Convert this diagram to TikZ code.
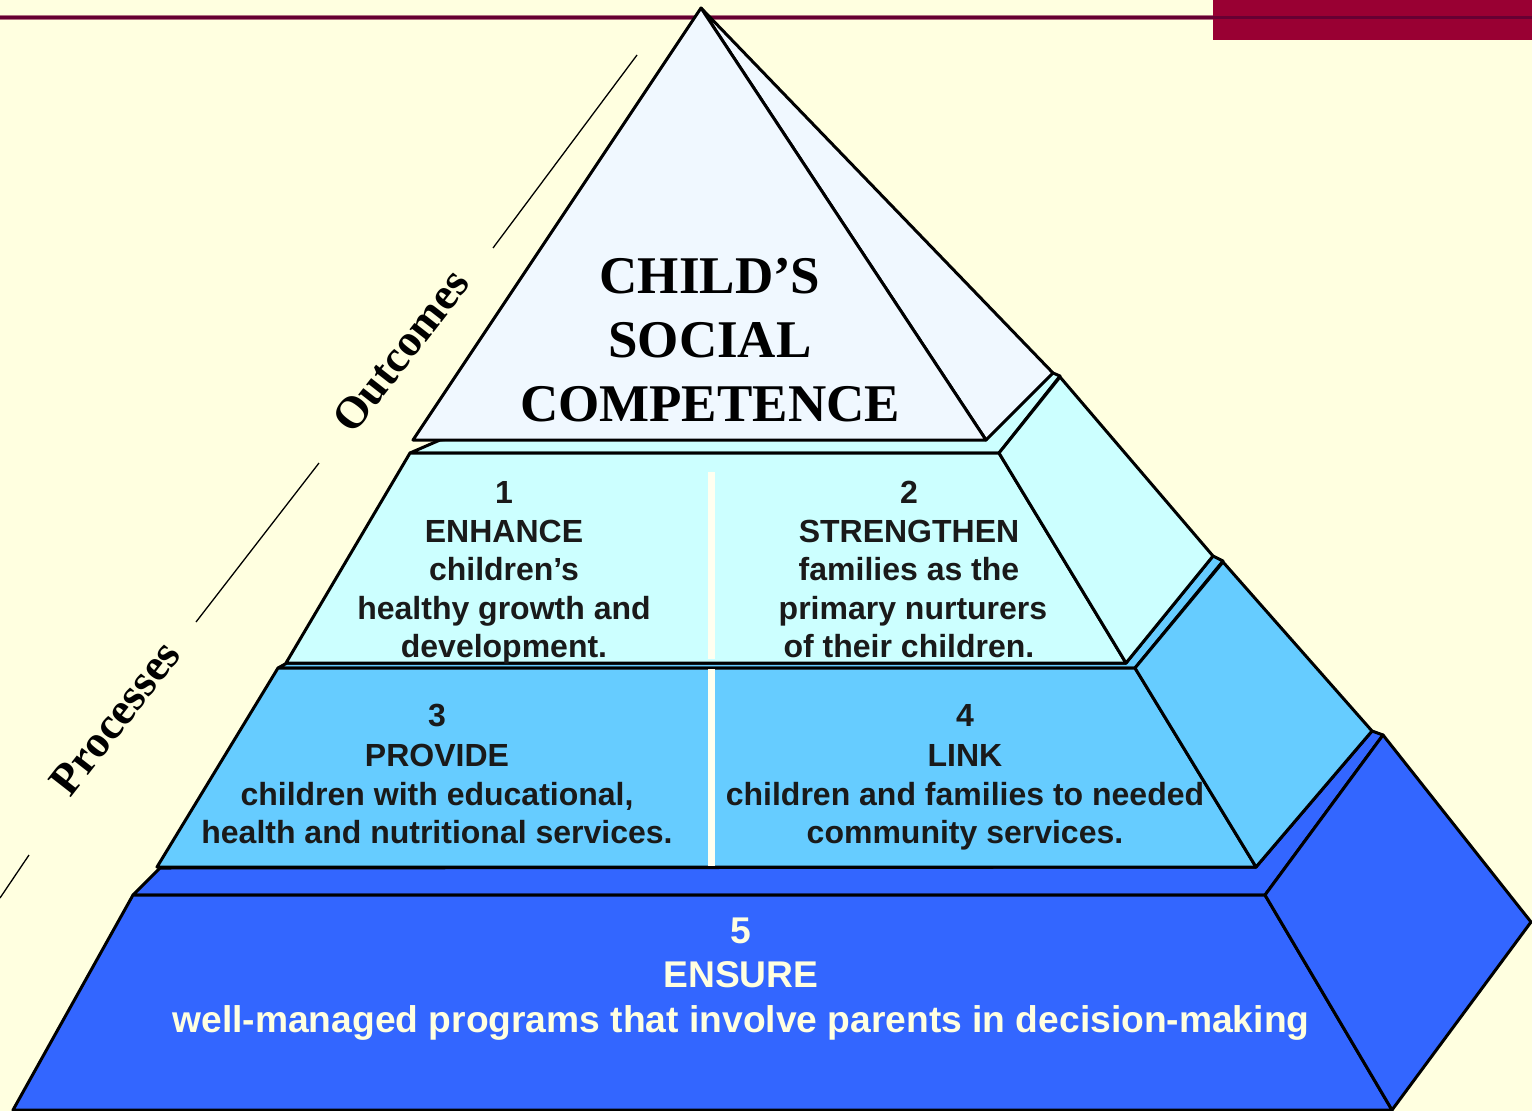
\documentclass[tikz,border=0pt]{standalone}
\usepackage{fontspec}
\setmainfont{Liberation Sans}
\newfontfamily\lserif{Liberation Serif}
\definecolor{bgc}{RGB}{255,255,224}
\definecolor{redc}{RGB}{153,0,51}
\definecolor{maroonc}{RGB}{102,0,51}
\definecolor{pinkc}{RGB}{176,112,128}
\definecolor{topc}{RGB}{240,248,255}
\definecolor{tonec}{RGB}{204,255,255}
\definecolor{ttwoc}{RGB}{102,204,255}
\definecolor{tthreec}{RGB}{51,102,255}
\definecolor{txtdark}{RGB}{26,26,26}
\definecolor{txtlight}{RGB}{255,255,224}
\definecolor{divc}{RGB}{255,255,240}
\tikzset{
  face/.style={draw=black, line width=3pt, line join=round},
  guide/.style={draw=black, line width=1.3pt},
  tlab/.style={anchor=base, inner sep=0pt, text=txtdark, font=\fontsize{32}{38}\selectfont\bfseries},
  blab/.style={anchor=base, inner sep=0pt, text=txtlight, font=\fontsize{37.2}{44}\selectfont\bfseries},
  clab/.style={anchor=base, inner sep=0pt, text=black, font=\lserif\fontsize{53}{64}\selectfont\bfseries},
  slab/.style={inner sep=0pt, text=black, rotate=52, font=\lserif\fontsize{45}{50}\selectfont\bfseries}
}
\begin{document}
\begin{tikzpicture}[x=1pt,y=-1pt]
\fill[bgc] (0,0) rectangle (1532,1111);
\useasboundingbox (0,0) rectangle (1532,1111);
% header
\fill[redc] (1213,0) rectangle (1532,40);
\draw[pinkc, line width=5pt] (0,17.5) -- (1213,17.5);
\draw[maroonc, line width=3pt] (0,17.5) -- (1532,17.5);
% guide lines
\draw[guide] (637,55) -- (493,248);
\draw[guide] (319,463) -- (196,622);
\draw[guide] (29,855) -- (0,898);
% tier 3
\filldraw[face, fill=tthreec] (133,895) -- (160,868) -- (1256,867) -- (1372,731) -- (1383,735) -- (1265,895) -- cycle;
\filldraw[face, fill=tthreec] (133,895) -- (1265,895) -- (1392,1110) -- (13,1110) -- cycle;
\filldraw[face, fill=tthreec] (1265,895) -- (1383,735) -- (1531,922) -- (1392,1110) -- cycle;
% tier 2
\filldraw[face, fill=ttwoc] (278,668) -- (287,663) -- (1126,663) -- (1213,556) -- (1223,561) -- (1135,668) -- cycle;
\filldraw[face, fill=ttwoc] (278,668) -- (1135,668) -- (1256,867) -- (157,867) -- cycle;
\filldraw[face, fill=ttwoc] (1135,668) -- (1223,562) -- (1372,731) -- (1256,867) -- cycle;
% tier 1
\filldraw[face, fill=tonec] (410,453) -- (440,440) -- (1053,373) -- (1060,376) -- (999,453) -- cycle;
\filldraw[face, fill=tonec] (410,453) -- (999,453) -- (1126,663) -- (286,663) -- cycle;
\filldraw[face, fill=tonec] (999,453) -- (1060,377) -- (1213,556) -- (1126,663) -- cycle;
% top
\filldraw[face, fill=topc] (701,8) -- (1053,373) -- (986,440) -- cycle;
\filldraw[face, fill=topc] (701,8) -- (986,440) -- (413,440) -- cycle;
% dividers
\fill[divc] (708,472) rectangle (715,659);
\fill[divc] (708,669) rectangle (715,866);
% side labels
\node[slab] (outc) at (401,351) {Outcomes};
\node[slab] (proc) at (115,718) {Processes};
% apex text
\node[clab] (c1) at (710,293) {CHILD’S};
\node[clab] (c2) at (710,357) {SOCIAL};
\node[clab] (c3) at (710,421) {COMPETENCE};
% tier 1 left
\node[tlab] (a1) at (504,503) {1};
\node[tlab] (a2) at (504,542) {ENHANCE};
\node[tlab] (a3) at (504,580) {children’s};
\node[tlab] (a4) at (504,619) {healthy growth and};
\node[tlab] (a5) at (504,657) {development.};
% tier 1 right
\node[tlab] (b1) at (909,503) {2};
\node[tlab] (b2) at (909,542) {STRENGTHEN};
\node[tlab] (b3) at (909,580) {families as the};
\node[tlab] (b4) at (913,619) {primary nurturers};
\node[tlab] (b5) at (909,657) {of their children.};
% tier 2 left
\node[tlab] (d1) at (437,726) {3};
\node[tlab] (d2) at (437,766) {PROVIDE};
\node[tlab] (d3) at (437,805) {children with educational,};
\node[tlab] (d4) at (437,843) {health and nutritional services.};
% tier 2 right
\node[tlab] (e1) at (965,726) {4};
\node[tlab] (e2) at (965,766) {LINK};
\node[tlab] (e3) at (965,805) {children and families to needed};
\node[tlab] (e4) at (965,843) {community services.};
% tier 3
\node[blab] (f1) at (741,943) {5};
\node[blab] (f2) at (741,987) {ENSURE};
\node[blab] (f3) at (741,1032) {well-managed programs that involve parents in decision-making};
\end{tikzpicture}
\end{document}
